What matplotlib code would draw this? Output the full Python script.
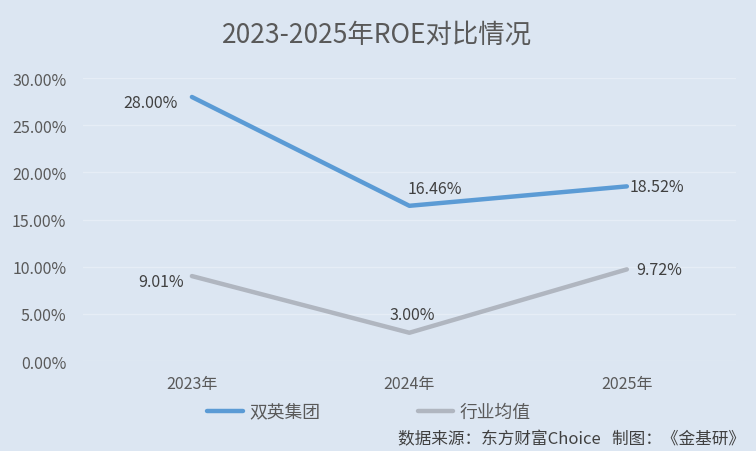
import matplotlib
matplotlib.use('Agg')
import matplotlib.pyplot as plt
from matplotlib.ticker import PercentFormatter

plt.rcParams['font.family'] = ['Noto Sans CJK SC', 'DejaVu Sans']

years = ['2023年', '2024年', '2025年']
shuangying = [28.00, 16.46, 18.52]
industry = [9.01, 3.00, 9.72]
yticks = [0, 5, 10, 15, 20, 25, 30]

bg = '#DCE6F2'
txt = '#595959'

fig = plt.figure(figsize=(7.56, 4.52), dpi=100, facecolor=bg)
ax = fig.add_axes([0.11, 0.199, 0.863, 0.626], facecolor=bg)

x = range(len(years))
ax.plot(x, shuangying, color='#5B9BD5', lw=3.2, solid_capstyle='round', label='双英集团')
ax.plot(x, industry, color='#B0B6C0', lw=3.2, solid_capstyle='round', label='行业均值')

# data labels: (dx, dy, ha) in pixels
offs1 = [(-14, -6, 'right'), (-2, 17, 'left'), (3, 0, 'left')]
offs2 = [(-8, -5, 'right'), (-20, 18, 'left'), (9, 0, 'left')]
for i, v in enumerate(shuangying):
    dx, dy, ha = offs1[i]
    ax.annotate(f'{v:.2f}%', (i, v), xytext=(dx, dy), textcoords='offset pixels',
                ha=ha, va='center', fontsize=11.5, color='#404040')
for i, v in enumerate(industry):
    dx, dy, ha = offs2[i]
    ax.annotate(f'{v:.2f}%', (i, v), xytext=(dx, dy), textcoords='offset pixels',
                ha=ha, va='center', fontsize=11.5, color='#404040')

ax.set_xlim(-0.5, 2.5)
ax.set_ylim(0, 30)
ax.set_yticks(yticks)
ax.yaxis.set_major_formatter(PercentFormatter(decimals=2))
ax.set_xticks(list(x))
ax.set_xticklabels(years)
ax.tick_params(length=0, labelsize=11.5, colors=txt)
ax.tick_params(axis='y', pad=12)
ax.tick_params(axis='x', pad=10)
ax.grid(axis='y', color='#E6EDF6', lw=1)
ax.set_axisbelow(True)
for s in ax.spines.values():
    s.set_visible(False)

fig.text(0.498, 0.922, '2023-2025年ROE对比情况', ha='center', va='center',
         fontsize=19, color=txt)

fig.legend(loc='center left', bbox_to_anchor=(0.274, 0.086), ncol=2, frameon=False,
           fontsize=12.8, labelcolor=txt, handlelength=2.0, columnspacing=5.5,
           handletextpad=0.35, borderpad=0, borderaxespad=0)

fig.text(0.986, 0.026, '数据来源：东方财富Choice   制图：《金基研》', ha='right', va='center',
         fontsize=12, color='#404040')

fig.savefig('out.png', dpi=100, facecolor=bg)
